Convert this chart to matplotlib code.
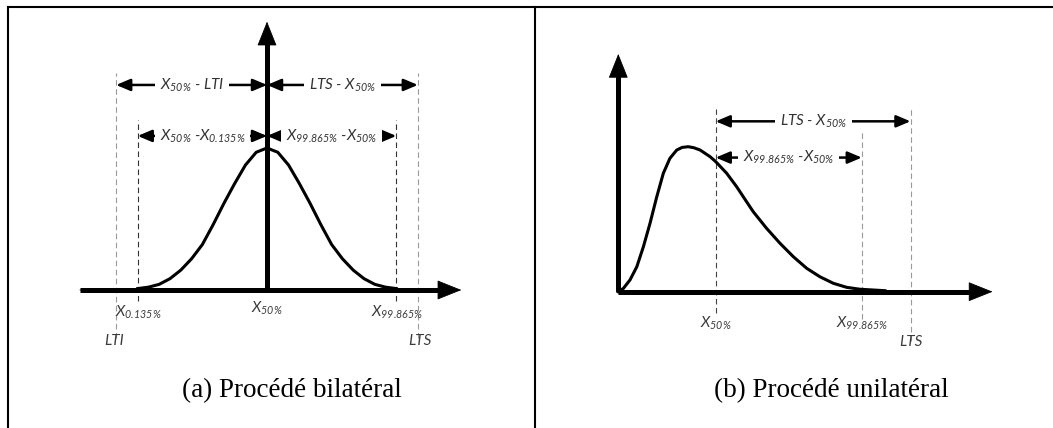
import matplotlib
matplotlib.use("Agg")
import matplotlib.pyplot as plt
from matplotlib.lines import Line2D

plt.rcParams["mathtext.fontset"] = "custom"
plt.rcParams["mathtext.it"] = "Lato:italic"
plt.rcParams["mathtext.rm"] = "Lato:italic"
plt.rcParams["mathtext.bf"] = "Lato:italic"
plt.rcParams["lines.scale_dashes"] = False

#
# data
#

# (a) bilateral process, x in units of sigma, y relative to peak height
bi_x = [-3.0, -2.75, -2.5, -2.25, -2.0, -1.75, -1.5, -1.25, -1.0, -0.75, -0.5, -0.25, 0.0,
        0.25, 0.5, 0.75, 1.0, 1.25, 1.5, 1.75, 2.0, 2.25, 2.5, 2.75, 3.0]
bi_y = [0.01, 0.02, 0.04, 0.08, 0.14, 0.22, 0.32, 0.46, 0.61, 0.75, 0.88, 0.97, 1.00,
        0.97, 0.88, 0.75, 0.61, 0.46, 0.32, 0.22, 0.14, 0.08, 0.04, 0.02, 0.01]
bi_lti, bi_x0135, bi_x50, bi_x99865, bi_lts = -3.5, -3.0, 0.0, 3.0, 3.5

# (b) unilateral process, skewed curve starting at the origin
uni_x = [0.0, 0.21, 0.48, 0.76, 1.03, 1.30, 1.58, 1.85, 2.12, 2.40, 2.62, 2.87, 3.10, 3.36,
         3.77, 4.00, 4.45, 4.86, 5.27, 5.54, 6.09, 6.64, 7.19, 7.74, 8.28, 8.83, 9.38,
         9.92, 10.95]
uni_y = [0.0, 0.023, 0.081, 0.172, 0.31, 0.47, 0.655, 0.817, 0.92, 0.977, 0.995, 1.0, 0.993,
         0.977, 0.931, 0.897, 0.817, 0.724, 0.62, 0.552, 0.437, 0.334, 0.241, 0.161, 0.103,
         0.058, 0.030, 0.017, 0.007]
uni_x50, uni_x99865, uni_lts = 4.0, 10.0, 12.0

captions = ["(a) Procédé bilatéral", "(b) Procédé unilatéral"]

#
# helpers
#

W, H = 1053, 428
fig = plt.figure(figsize=(W / 100, H / 100), dpi=100)

def panel(box, x0, ux, y0, uy):
  # box in pixels (left, top, right, bottom); x0/y0 = origin pixel, ux/uy = pixels per unit
  (l, t, r, b) = box
  ax = fig.add_axes([l / W, 1 - b / H, (r - l) / W, (b - t) / H])
  ax.set_xlim((l - x0) / ux, (r - x0) / ux)
  ax.set_ylim((y0 - b) / uy, (y0 - t) / uy)
  ax.axis("off")
  return ax

def axis_arrow(ax, start, tip, head):
  # thick shaft, plus a thin arrow for the filled head
  sx, sy = start
  tx, ty = tip
  ax.plot([sx, sx + (tx - sx) * head], [sy, sy + (ty - sy) * head],
          color="black", lw=3.6, solid_capstyle="butt", zorder=4)
  ax.annotate("", xy=tip, xytext=start, annotation_clip=False,
              arrowprops=dict(arrowstyle="-|>,head_length=1.6,head_width=0.64",
                              mutation_scale=10, lw=0.6, color="black",
                              shrinkA=0, shrinkB=0), zorder=4)

def dim(ax, x1, x2, y, label):
  ax.annotate("", xy=(x2, y), xytext=(x1, y), annotation_clip=False,
              arrowprops=dict(arrowstyle="<|-|>,head_length=0.85,head_width=0.36",
                              mutation_scale=10, lw=1.8, color="black",
                              shrinkA=0, shrinkB=0), zorder=2)
  ax.text((x1 + x2) / 2, y, label, ha="center", va="center", fontsize=11,
          family="Lato", style="italic", color="#333333", zorder=3,
          bbox=dict(boxstyle="square,pad=0.32", fc="white", ec="none"))

def vdash(ax, x, y1, y2, color):
  ax.plot([x, x], [y1, y2], color=color, lw=0.8, dashes=(4, 2.5), zorder=1)

def label(ax, x, y, s, ha="center"):
  ax.text(x, y, s, ha=ha, va="top", fontsize=11, family="Lato",
          style="italic", color="#3c3c3c")

#
# (a) bilateral
#

ax1 = panel((10, 10, 533, 360), 267, 43.1, 290, 142)

vdash(ax1, bi_lti, -0.34, 1.53, "#9a9a9a")
vdash(ax1, bi_lts, -0.34, 1.53, "#9a9a9a")
vdash(ax1, bi_x0135, -0.08, 1.20, "#333333")
vdash(ax1, bi_x99865, -0.08, 1.20, "#333333")

ax1.plot(bi_x, bi_y, color="black", lw=2.2, solid_joinstyle="round", zorder=3)

axis_arrow(ax1, (-4.34, 0), (4.51, 0), 0.95)
axis_arrow(ax1, (bi_x50, 0), (bi_x50, 1.89), 0.93)

dim(ax1, bi_lti, bi_x50, 1.444, r"$X_{50\%}$ - LTI")
dim(ax1, bi_x50, bi_lts, 1.444, r"LTS - $X_{50\%}$")
dim(ax1, bi_x0135, bi_x50, 1.085, r"$X_{50\%}$ -$X_{0.135\%}$")
dim(ax1, bi_x50, bi_x99865, 1.085, r"$X_{99.865\%}$ -$X_{50\%}$")

label(ax1, bi_x50, -0.065, r"$X_{50\%}$")
label(ax1, bi_lti - 0.03, -0.095, r"$X_{0.135\%}$", ha="left")
label(ax1, bi_lts + 0.12, -0.095, r"$X_{99.865\%}$", ha="right")
label(ax1, bi_lti - 0.05, -0.31, "LTI")
label(ax1, bi_lts + 0.05, -0.31, "LTS")

#
# (b) unilateral
#

ax2 = panel((537, 10, 1050, 360), 618.3, 24.35, 291.7, 145)

vdash(ax2, uni_x50, -0.15, 1.26, "#444444")
vdash(ax2, uni_x99865, -0.19, 1.10, "#9a9a9a")
vdash(ax2, uni_lts, -0.34, 1.26, "#9a9a9a")

ax2.plot(uni_x, uni_y, color="black", lw=2.2, solid_joinstyle="round", zorder=3)

axis_arrow(ax2, (0, 0), (15.37, 0), 0.95)
axis_arrow(ax2, (0, 0), (0, 1.64), 0.92)

dim(ax2, uni_x50, uni_lts, 1.175, r"LTS - $X_{50\%}$")
dim(ax2, uni_x50, uni_x99865, 0.925, r"$X_{99.865\%}$ -$X_{50\%}$")

label(ax2, uni_x50, -0.16, r"$X_{50\%}$")
label(ax2, uni_x99865, -0.16, r"$X_{99.865\%}$")
label(ax2, uni_lts, -0.30, "LTS")

#
# captions and cell borders
#

for (cx, text) in zip([292, 831], captions):
  fig.text(cx / W, 1 - 397 / H, text, ha="center", va="baseline",
           fontsize=19.5, family="Liberation Serif", color="black")

border = dict(color="black", lw=1.5, transform=fig.transFigure)
fig.add_artist(Line2D([8 / W, 1], [1 - 7 / H, 1 - 7 / H], **border))
fig.add_artist(Line2D([8 / W, 8 / W], [0, 1 - 7 / H], **border))
fig.add_artist(Line2D([535 / W, 535 / W], [0, 1 - 7 / H], **border))

fig.savefig("out.png", dpi=100)
